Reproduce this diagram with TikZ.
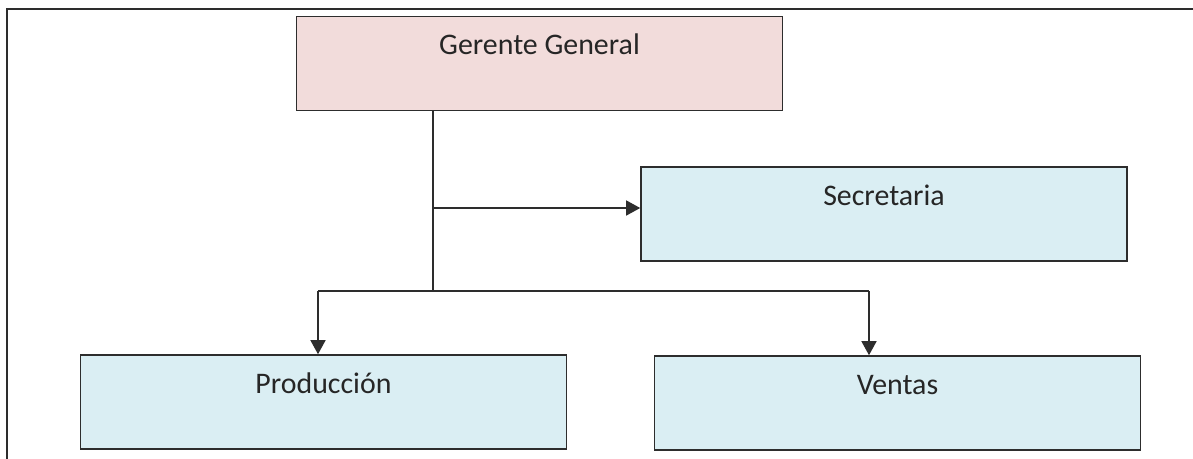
\documentclass[tikz,border=0pt]{standalone}
\usepackage{fontspec}
\setmainfont{Carlito}
\usetikzlibrary{arrows.meta}
\definecolor{pink}{RGB}{242,220,219}
\definecolor{skyblue}{RGB}{218,238,243}
\definecolor{edge}{RGB}{45,45,45}

\begin{document}
\begin{tikzpicture}

		\tikzset{line/.style={draw,edge,line width=0.8pt}}
		\tikzset{arrow/.style={line,-{Triangle[length=0.28cm,width=0.3cm]}}}
		\tikzset{box/.style={draw,edge,line width=0.9pt,inner sep=0pt,minimum width=9.72cm,text height=0.76cm,text depth=1.12cm,font=\fontsize{17}{20}\selectfont,text=black!85}}

		\useasboundingbox (0,0) rectangle (23.86,-9.18);

		% frame
		\coordinate (frametop) at (23.86,-0.18);
		\coordinate (framecorner) at (0.14,-0.18);
		\coordinate (framebottom) at (0.14,-9.18);
		\draw[edge,line width=1.3pt] (frametop) -- (framecorner) -- (framebottom);

		\node[box,fill=pink] (gerente) at (10.79,-1.27) {Gerente General};
		\node[box,fill=skyblue] (secretaria) at (17.68,-4.28) {Secretaria};
		\node[box,fill=skyblue] (produccion) at (6.47,-8.04) {Producción};
		\node[box,fill=skyblue] (ventas) at (17.95,-8.06) {Ventas};

		\coordinate (branch) at (8.66,-4.16);
		\coordinate (split) at (8.66,-5.82);
		\coordinate (prodtop) at (6.36,-5.82);
		\coordinate (ventop) at (17.38,-5.82);

		\path[line] (gerente.south -| split) -- (split);
		\path[arrow] (branch) -- (secretaria.west |- branch);
		\path[line] (prodtop) -- (ventop);
		\path[arrow] (prodtop) -- (produccion.north -| prodtop);
		\path[arrow] (ventop) -- (ventas.north -| ventop);

	\end{tikzpicture}
\end{document}
